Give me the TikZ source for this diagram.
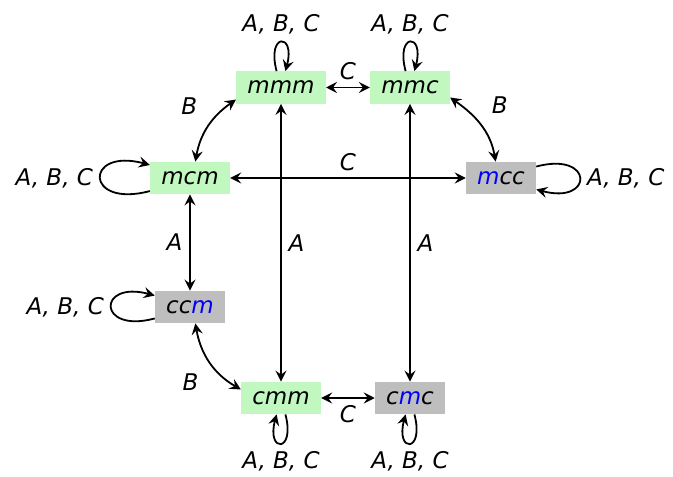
\documentclass[tikz,border=0pt]{standalone}
\usepackage{fontspec}
\setmainfont{DejaVu Sans}
\usetikzlibrary{arrows.meta}

\begin{document}
\begin{tikzpicture}[
    x=0.5pt, y=-0.5pt,
    every node/.style={font=\fontsize{11.5}{14}\selectfont\itshape},
]

\definecolor{stategreen}{HTML}{C0F8C0}
\definecolor{stategrey}{HTML}{BEBEBE}
\definecolor{flipcolor}{HTML}{0000FF}   % the letter that changed

\tikzset{
  state/.style={fill=stategreen, minimum height=16pt, inner xsep=5.5pt, inner ysep=0pt},
  greystate/.style={state, fill=stategrey},
  trans/.style={{Stealth[length=5.5pt, width=5.5pt, inset=2pt]}-{Stealth[length=5.5pt, width=5.5pt, inset=2pt]}, line width=0.9pt},
  selfloop/.style={-{Stealth[length=5.5pt, width=5.5pt, inset=2pt]}, line width=0.9pt},
  sideloop/.style={selfloop, looseness=6.7, min distance=0pt},
  uploop/.style={selfloop, looseness=1, min distance=20pt},
}

\useasboundingbox (0,0) rectangle (673,476);

% ---------------------------------------------------------------- states
\node[state]     (mmm) at (281,87.5) {mmm};
\node[state]     (mmc) at (410,87.5) {mmc};
\node[state]     (mcm) at (190,178)  {mcm};
\node[greystate] (mcc) at (501,178)  {\textcolor{flipcolor}{m}cc};
\node[greystate] (ccm) at (190,307)  {cc\textcolor{flipcolor}{m}};
\node[state]     (cmm) at (281,398)  {cmm};
\node[greystate] (cmc) at (410,398)  {c\textcolor{flipcolor}{m}c};

% ---------------------------------------------------------------- transitions
\draw[trans] (mmm) -- node[above] {C} (mmc);
\draw[trans] (mcm) -- node[above] {C} (mcc);
\draw[trans] (cmm) -- node[below] {C} (cmc);

\draw[trans] (mmm) -- node[right] {A} (cmm);
\draw[trans] (mmc) -- node[right] {A} (cmc);
\draw[trans] (mcm) -- node[left]  {A} (ccm);

% the B swaps bow outwards, away from the middle
\draw[trans] (mcm.72)  to[out=80, in=215]   node[above left=2pt]  {B} (mmm.195);
\draw[trans] (mcc.108) to[out=100, in=-35]  node[above right=2pt] {B} (mmc.-14);
\draw[trans] (ccm.-72) to[out=-80, in=150]  node[below left=2pt]  {B} (cmm.168);

% ---------------------------------------------------------------- self loops
\draw[uploop]   (mmm) to[out=105, in=75]   node[above] {A, B, C} (mmm);
\draw[uploop]   (mmc) to[out=105, in=75]   node[above] {A, B, C} (mmc);
\draw[sideloop] (mcm.198) to[out=195, in=165] node[left]  {A, B, C} (mcm.162);
\draw[sideloop] (ccm.198) to[out=195, in=165] node[left]  {A, B, C} (ccm.162);
\draw[sideloop] (mcc.18)  to[out=15, in=-15]  node[right] {A, B, C} (mcc.-18);
\draw[uploop]   (cmm) to[out=-75, in=-105] node[below] {A, B, C} (cmm);
\draw[uploop]   (cmc) to[out=-75, in=-105] node[below] {A, B, C} (cmc);

\end{tikzpicture}
\end{document}
